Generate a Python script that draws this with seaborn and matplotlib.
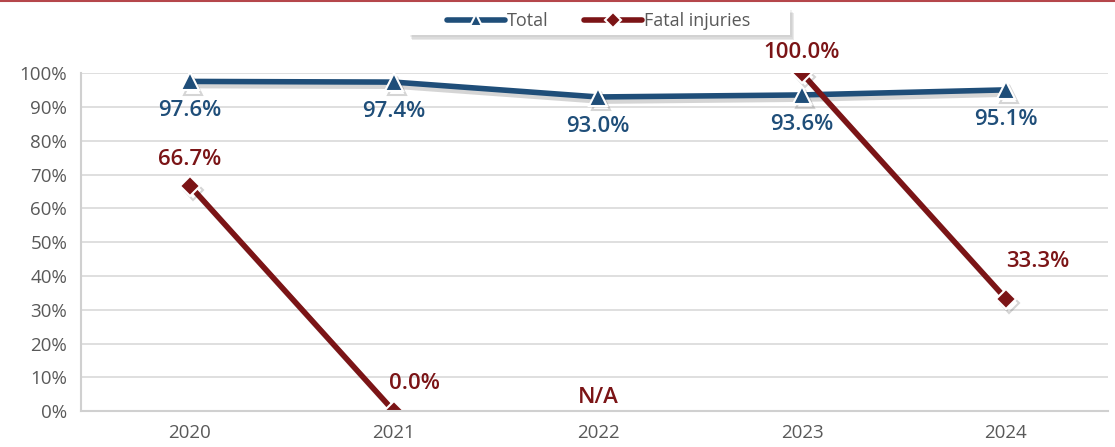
import numpy as np
import pandas as pd
import matplotlib
matplotlib.use("Agg")
import matplotlib.pyplot as plt
import matplotlib.patheffects as pe
from matplotlib.patches import Rectangle
import seaborn as sns

years = ["2020", "2021", "2022", "2023", "2024"]
total = [97.6, 97.4, 93.0, 93.6, 95.1]
fatal = [66.7, 0.0, np.nan, 100.0, 33.3]

blue = "#1F4E79"
red = "#7B1416"
grey_txt = "#595959"

sns.set_theme(style="white")
plt.rcParams["font.family"] = ["Open Sans", "DejaVu Sans"]

df = pd.DataFrame({"year": years, "Total": total, "Fatal injuries": fatal})
x = np.arange(len(years))
df["x"] = x

fig = plt.figure(figsize=(11.15, 4.47), dpi=100)
ax = fig.add_axes([0.0727, 0.08, 0.921, 0.756])

shadow = [pe.SimpleLineShadow(offset=(2.5, -3), shadow_color="k", alpha=0.18), pe.Normal()]

sns.lineplot(data=df, x="x", y="Total", ax=ax, color=blue, lw=4, marker="^",
             markersize=13, markeredgecolor="white", markeredgewidth=1.5,
             label="Total", path_effects=shadow)
# fatal series, gap at 2022 (N/A)
seg1 = df.iloc[0:2]
seg2 = df.iloc[3:5]
sns.lineplot(data=seg1, x="x", y="Fatal injuries", ax=ax, color=red, lw=4, marker="D",
             markersize=10, markeredgecolor="white", markeredgewidth=1.5,
             label="Fatal injuries", path_effects=shadow)
sns.lineplot(data=seg2, x="x", y="Fatal injuries", ax=ax, color=red, lw=4, marker="D",
             markersize=10, markeredgecolor="white", markeredgewidth=1.5,
             path_effects=shadow)

ax.set_xlim(-0.534, 4.5)
ax.set_ylim(0, 100)
ax.set_yticks(np.arange(0, 101, 10))
ax.set_yticklabels([f"{v}%" for v in range(0, 101, 10)], color=grey_txt, fontsize=13.5)
ax.set_xticks(x)
ax.set_xticklabels(years, color=grey_txt, fontsize=13.5)
ax.set_xlabel("")
ax.set_ylabel("")
ax.grid(axis="y", color="#d9d9d9", lw=1.2)
ax.set_axisbelow(True)
for s in ["top", "right"]:
    ax.spines[s].set_visible(False)
ax.spines["left"].set_color("#d0d0d0")
ax.spines["bottom"].set_color("#d0d0d0")
ax.spines["left"].set_linewidth(1.5)
ax.spines["bottom"].set_linewidth(1.5)
ax.tick_params(axis="y", length=6, color="#d0d0d0", width=1.5, pad=4)
ax.tick_params(axis="x", length=0, pad=9)

lab_kw = dict(fontsize=16, fontweight="semibold", ha="center", va="center")
for xi, v in zip(x, total):
    ax.annotate(f"{v:.1f}%", (xi, v), xytext=(0, -21), textcoords="offset points",
                color=blue, **lab_kw)
fatal_off = {0: (0, 19), 1: (15, 20), 3: (0, 15), 4: (23, 27)}
for xi, v in zip(x, fatal):
    if np.isnan(v):
        ax.annotate("N/A", (xi, 0), xytext=(0, 10), textcoords="offset points",
                    color=red, **lab_kw)
    else:
        ax.annotate(f"{v:.1f}%", (xi, v), xytext=fatal_off[xi], textcoords="offset points",
                    color=red, **lab_kw)

# legend box with a soft shadow, drawn by hand so it can be wider than its entries
bx, by, bw, bh = 408 / 1115, 1 - 35 / 447, 382 / 1115, 27 / 447
for i, a in enumerate([0.10, 0.12, 0.15]):
    d = (i + 2) / 1115
    fig.add_artist(Rectangle((bx + d, by - d * 1115 / 447 * 1.2), bw, bh, transform=fig.transFigure,
                             facecolor="#777777", edgecolor="none", alpha=a, zorder=1))
fig.add_artist(Rectangle((bx, by), bw, bh, transform=fig.transFigure,
                         facecolor="white", edgecolor="none", zorder=2))

handles, labels = ax.get_legend_handles_labels()
ax.get_legend().remove()
leg = fig.legend(handles, labels, loc="center", bbox_to_anchor=(0.537, 1 - 21.5 / 447), ncol=2,
                 frameon=False, fontsize=13, handlelength=3.2, columnspacing=2.0,
                 borderpad=0.3, handletextpad=0.1)
leg.set_zorder(10)
for t in leg.get_texts():
    t.set_color(grey_txt)
for h in leg.legend_handles:
    h.set_path_effects([])
    h.set_markersize(8)

fig.add_artist(plt.Line2D([0, 1], [0.998, 0.998], color="#B5474B", lw=1.5, transform=fig.transFigure))

fig.savefig("out.png", dpi=100)
